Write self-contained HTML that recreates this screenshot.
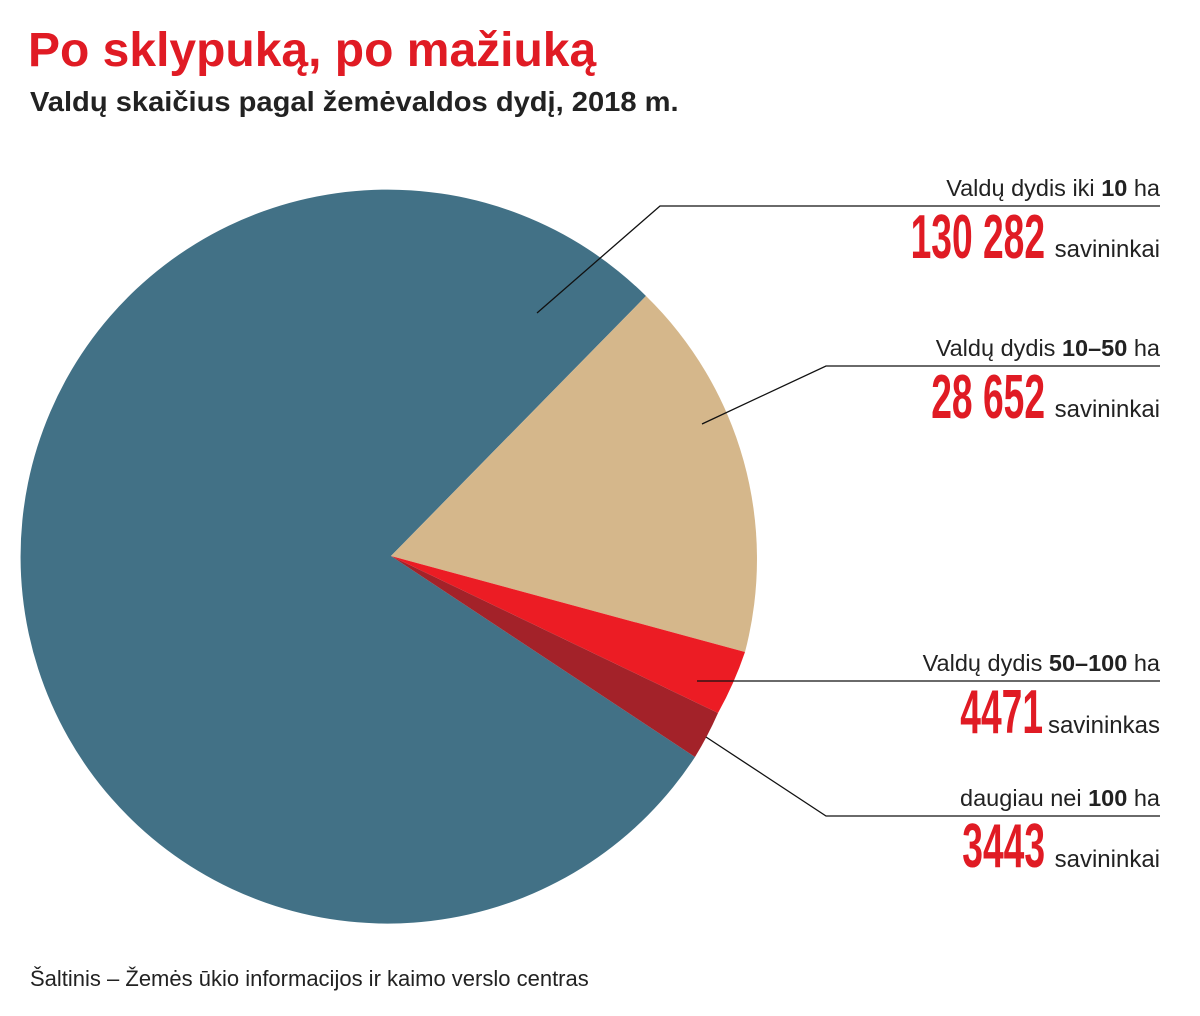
<!DOCTYPE html>
<html><head><meta charset="utf-8"><style>
body{margin:0;background:#fff;}
svg text{font-family:"Liberation Sans",sans-serif;}
</style></head><body>
<svg width="1200" height="1011" viewBox="0 0 1200 1011" xmlns="http://www.w3.org/2000/svg">
<text x="28" y="66" font-size="48" font-weight="bold" fill="#e01b24">Po sklypuką, po mažiuką</text>
<text x="30" y="111" font-size="28" font-weight="bold" fill="#222" transform="translate(30 0) scale(1.04 1) translate(-30 0)">Valdų skaičius pagal žemėvaldos dydį, 2018 m.</text>
<g>
<path d="M391 556 L646 296 A367 367 0 1 0 695 757 Z" fill="#427186"/>
<path d="M391 556 L646 296 A367 367 0 0 1 745 652 Z" fill="#d5b78b"/>
<path d="M391 556 L745 652 A367 367 0 0 1 718 713 Z" fill="#ec1c24"/>
<path d="M391 556 L718 713 A367 367 0 0 1 695 757 Z" fill="#a32229"/>
</g>
<g stroke="#111" stroke-width="1.3" fill="none">
<polyline points="537,313 660,206 1160,206"/>
<polyline points="702,424 826,366 1160,366"/>
<polyline points="697,681 1160,681"/>
<polyline points="706,737 826,816 1160,816"/>
</g>
<g font-size="23.5" fill="#222" text-anchor="end">
<text x="1160" y="196">Valdų dydis iki <tspan font-weight="bold">10</tspan> ha</text>
<text x="1160" y="356">Valdų dydis <tspan font-weight="bold">10–50</tspan> ha</text>
<text x="1160" y="671">Valdų dydis <tspan font-weight="bold">50–100</tspan> ha</text>
<text x="1160" y="806">daugiau nei <tspan font-weight="bold">100</tspan> ha</text>
</g>
<g font-size="24" fill="#222" text-anchor="end">
<text x="1160" y="257">savininkai</text>
<text x="1160" y="417">savininkai</text>
<text x="1160" y="733">savininkas</text>
<text x="1160" y="867">savininkai</text>
</g>
<g font-size="62" font-weight="bold" fill="#e01b24" text-anchor="end">
<text transform="translate(1045 258) scale(0.6 1)">130 282</text>
<text transform="translate(1045 418) scale(0.6 1)">28 652</text>
<text transform="translate(1043 733) scale(0.6 1)">4471</text>
<text transform="translate(1045 867) scale(0.6 1)">3443</text>
</g>
<text x="30" y="986" font-size="22" fill="#222">Šaltinis – Žemės ūkio informacijos ir kaimo verslo centras</text>
</svg>
</body></html>
